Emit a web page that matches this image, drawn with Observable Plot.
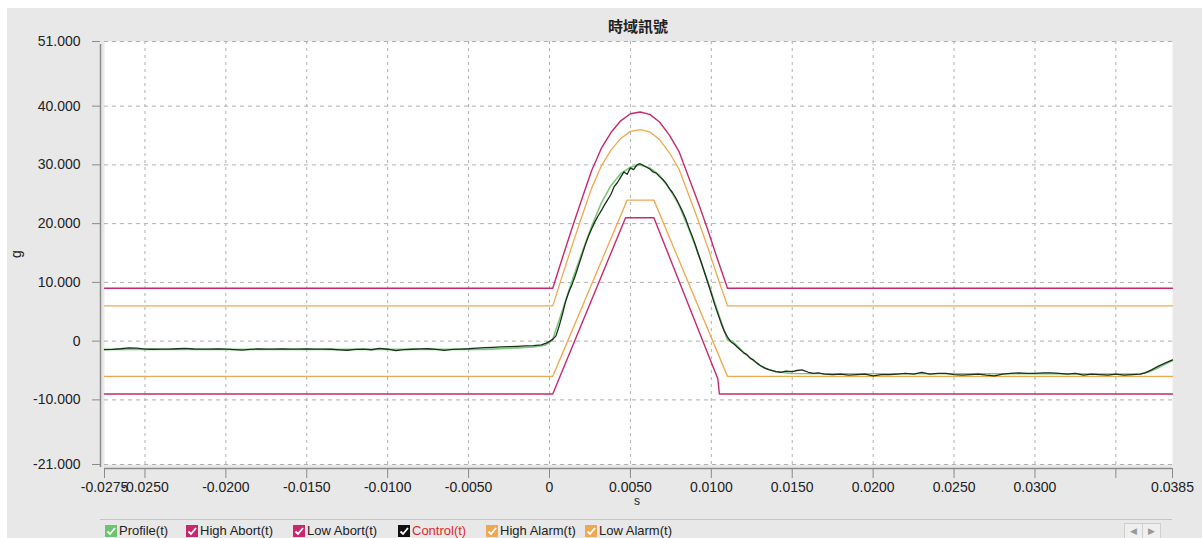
<!DOCTYPE html>
<html><head><meta charset="utf-8">
<script src="https://cdn.jsdelivr.net/npm/d3@7"></script>
<script src="https://cdn.jsdelivr.net/npm/@observablehq/plot@0.6"></script>
<style>
body{margin:0;background:#fff;font-family:"Liberation Sans",Arial,sans-serif;}
#wrap{position:relative;width:1202px;height:538px;overflow:hidden;background:#fff;}
#panel{position:absolute;left:7px;top:8px;right:0;bottom:0;background:#e8e8e8;}
#chart{position:absolute;left:0;top:0;}
#title{position:absolute;top:15px;left:104px;width:1068px;text-align:center;font:bold 15px "Noto Sans CJK TC";color:#222;}
.axl{position:absolute;font:14px "Liberation Sans",Arial,sans-serif;color:#222;}
#legend{position:absolute;top:519px;left:100px;width:1072px;height:20px;border-top:1px solid #c4c4c4;}
.item{position:absolute;top:3px;height:15px;font:13px "Liberation Sans",Arial,sans-serif;color:#222;white-space:nowrap;}
.item svg{position:absolute;left:0;top:2px;}
.item span{position:absolute;left:14px;top:0;}
#scroll{position:absolute;left:1124px;top:523px;}
#scroll div{position:absolute;top:0;width:17px;height:15px;border:1px solid #cfcfcf;background:#efefef;color:#999;font-size:9px;text-align:center;line-height:15px;}
</style></head>
<body>
<div id="wrap">
  <div id="panel"></div>
  <div id="chart"></div>
  <div id="title"></div>
  <div class="axl" id="ylab" style="left:12px;top:246px;transform:rotate(-90deg);"></div>
  <div class="axl" id="xlab" style="left:634px;top:494px;font-size:12px;"></div>
  <div id="legend"></div>
  <div id="scroll"><div style="left:0">&#9664;</div><div style="left:18px">&#9654;</div></div>
</div>
<script>
const titleText = "時域訊號";
const xLabel = "s";
const yLabel = "g";

const xTicks = [-0.0275, -0.025, -0.02, -0.015, -0.01, -0.005, 0, 0.005, 0.01, 0.015, 0.02, 0.025, 0.03, 0.035, 0.0385];
const xTickLabels = ["-0.0275","-0.0250","-0.0200","-0.0150","-0.0100","-0.0050","0","0.0050","0.0100","0.0150","0.0200","0.0250","0.0300","","0.0385"];
const yTicks = [51, 40, 30, 20, 10, 0, -10, -21];
const yTickLabels = ["51.000","40.000","30.000","20.000","10.000","0","-10.000","-21.000"];

const legendNames = ["Profile(t)","High Abort(t)","Low Abort(t)","Control(t)","High Alarm(t)","Low Alarm(t)"];
const legendColors = ["#6cc46c","#c8286e","#c8286e","#111111","#f0a850","#f0a850"];

// [time (s), acceleration (g)]
const profile = [
[-0.0275,-1.4],[-0.0040,-1.4],[-0.0020,-1.15],[-0.0010,-1.0],[-0.0003,-0.7],[0.0000,-0.2],[0.0002,0.3],
[0.0008,5.2],[0.0014,10.3],[0.0020,15.0],[0.0026,19.5],[0.0032,23.5],[0.0038,26.5],[0.0044,28.5],[0.0050,29.6],
[0.0056,30.0],[0.0062,29.5],[0.0068,28.2],[0.0074,26.0],[0.0080,23.2],[0.0086,19.2],[0.0092,14.8],[0.0098,10.0],
[0.0104,5.0],[0.0110,0.2],[0.0113,0.0],[0.0116,-0.8],[0.0120,-1.9],[0.0125,-3.1],[0.0130,-4.1],[0.0135,-4.8],
[0.0140,-5.2],[0.0150,-5.5],[0.0365,-5.6],[0.0370,-5.3],[0.0375,-4.7],[0.0380,-4.0],[0.0385,-3.3]];

const highAbort = [[-0.0275,9],[0.0002,9],[0.0008,14.2],[0.0014,19.3],[0.0020,24.2],[0.0026,29.0],[0.0032,32.8],
[0.0038,35.5],[0.0044,37.5],[0.0050,38.7],[0.0056,39.0],[0.0062,38.6],[0.0068,37.3],[0.0074,35.1],[0.0080,32.3],
[0.0086,27.9],[0.0092,23.5],[0.0098,18.8],[0.0104,13.8],[0.0110,9],[0.0385,9]];

const highAlarm = [[-0.0275,6],[0.0002,6],[0.0008,11.2],[0.0014,16.3],[0.0020,21.2],[0.0026,26.0],[0.0032,29.8],
[0.0038,32.5],[0.0044,34.5],[0.0050,35.7],[0.0056,36.0],[0.0062,35.6],[0.0068,34.3],[0.0074,32.1],[0.0080,29.3],
[0.0086,24.9],[0.0092,20.5],[0.0098,15.8],[0.0104,10.8],[0.0110,6],[0.0385,6]];

const lowAbort = [[-0.0275,-9],[0.0002,-9],[0.0047,21],[0.00645,21],[0.0104,-6.4],[0.0105,-9],[0.0385,-9]];
const lowAlarm = [[-0.0275,-6],[0.0002,-6],[0.0048,24],[0.00645,24],[0.0110,-6],[0.0385,-6]];

const control = [
[-0.0275,-1.45],[-0.0270,-1.40],[-0.0265,-1.30],[-0.0260,-1.15],[-0.0255,-1.20],[-0.0250,-1.35],[-0.0245,-1.38],
[-0.0240,-1.35],[-0.0235,-1.36],[-0.0230,-1.30],[-0.0225,-1.22],[-0.0220,-1.34],[-0.0215,-1.37],[-0.0210,-1.35],
[-0.0205,-1.34],[-0.0200,-1.36],[-0.0195,-1.45],[-0.0190,-1.52],[-0.0185,-1.40],[-0.0180,-1.34],[-0.0175,-1.36],
[-0.0170,-1.35],[-0.0165,-1.33],[-0.0160,-1.36],[-0.0155,-1.35],[-0.0150,-1.34],[-0.0145,-1.36],[-0.0140,-1.35],
[-0.0135,-1.38],[-0.0130,-1.48],[-0.0125,-1.55],[-0.0120,-1.42],[-0.0115,-1.36],[-0.0110,-1.47],[-0.0105,-1.25],
[-0.0100,-1.38],[-0.0095,-1.62],[-0.0090,-1.45],[-0.0085,-1.38],[-0.0080,-1.33],[-0.0075,-1.30],[-0.0070,-1.42],
[-0.0065,-1.56],[-0.0060,-1.40],[-0.0055,-1.35],[-0.0050,-1.30],[-0.0045,-1.20],[-0.0040,-1.12],[-0.0035,-1.05],
[-0.0030,-0.98],[-0.0025,-0.92],[-0.0020,-0.88],[-0.0015,-0.82],[-0.0010,-0.78],[-0.0005,-0.65],[-0.0002,-0.35],
[0.0000,-0.05],[0.0002,0.3],[0.0004,0.9],[0.0006,2.6],[0.0008,4.6],[0.0010,6.8],[0.0012,8.4],[0.0014,9.7],
[0.0016,11.2],[0.0018,12.9],[0.0020,14.6],[0.0022,16.3],[0.0024,17.8],[0.0026,19.1],[0.0028,20.3],[0.0030,21.3],
[0.0032,22.2],[0.0034,23.2],[0.0036,24.1],[0.0038,25.0],[0.0040,26.3],[0.0042,27.0],[0.0044,27.9],[0.0046,28.8],
[0.0048,28.4],[0.0050,29.5],[0.0052,29.2],[0.0054,30.0],[0.0056,30.2],[0.0058,29.9],[0.0060,29.6],[0.0062,29.3],
[0.0064,28.8],[0.0066,28.6],[0.0068,28.0],[0.0070,27.5],[0.0072,26.9],[0.0074,26.0],[0.0076,25.3],[0.0078,24.4],
[0.0080,23.3],[0.0082,22.2],[0.0084,20.9],[0.0086,19.4],[0.0088,18.0],[0.0090,16.5],[0.0092,14.8],[0.0094,13.2],
[0.0096,11.5],[0.0098,9.8],[0.0100,8.1],[0.0102,6.3],[0.0104,4.7],[0.0106,3.1],[0.0108,1.7],[0.0110,0.7],
[0.0112,-0.1],[0.0114,-0.5],[0.0116,-1.0],[0.0118,-1.5],[0.0120,-2.0],[0.0122,-2.3],[0.0124,-2.9],[0.0126,-3.2],
[0.0128,-3.7],[0.0130,-4.1],[0.0133,-4.6],[0.0136,-4.9],[0.0140,-5.2],[0.0143,-5.3],[0.0146,-5.1],[0.0150,-5.2],
[0.0153,-5.0],[0.0156,-4.9],[0.0160,-5.3],[0.0163,-5.5],[0.0166,-5.4],[0.0170,-5.6],[0.0175,-5.7],[0.0180,-5.6],
[0.0185,-5.8],[0.0190,-5.7],[0.0195,-5.6],[0.0200,-5.9],[0.0205,-5.7],[0.0210,-5.7],[0.0215,-5.6],[0.0220,-5.5],
[0.0225,-5.6],[0.0230,-5.3],[0.0235,-5.6],[0.0240,-5.5],[0.0245,-5.5],[0.0250,-5.7],[0.0255,-5.8],[0.0260,-5.7],
[0.0265,-5.6],[0.0270,-5.8],[0.0275,-5.9],[0.0280,-5.6],[0.0285,-5.5],[0.0290,-5.4],[0.0295,-5.5],[0.0300,-5.5],
[0.0305,-5.4],[0.0310,-5.4],[0.0315,-5.5],[0.0320,-5.6],[0.0325,-5.5],[0.0330,-5.8],[0.0335,-5.6],[0.0340,-5.7],
[0.0345,-5.8],[0.0350,-5.6],[0.0355,-5.8],[0.0360,-5.7],[0.0365,-5.6],[0.0368,-5.4],[0.0372,-4.9],[0.0376,-4.3],
[0.0380,-3.8],[0.0385,-3.2]];

const xLab = new Map(xTicks.map((t,i)=>[t,xTickLabels[i]]));
const yLab = new Map(yTicks.map((t,i)=>[t,yTickLabels[i]]));
const X = d=>d[0], Y = d=>d[1];
const xDom = [xTicks[0], xTicks[xTicks.length-1]];
const yDom = [yTicks[yTicks.length-1], yTicks[0]];

const chart = Plot.plot({
  width: 1202, height: 515,
  marginLeft: 104, marginRight: 30, marginTop: 41, marginBottom: 51,
  style: {background: "transparent", overflow: "visible", fontFamily: "'Liberation Sans', Arial, sans-serif"},
  x: {domain: xDom, axis: null},
  y: {domain: yDom, axis: null},
  marks: [
    Plot.frame({fill: "white", stroke: "none"}),
    Plot.gridX(xTicks.slice(1, -1), {stroke: "#b0b0b0", strokeOpacity: 1, strokeDasharray: "3,4"}),
    Plot.gridY(yTicks, {stroke: "#b0b0b0", strokeOpacity: 1, strokeDasharray: "4,4"}),
    Plot.ruleX([xDom[0]], {y1: yDom[1], y2: yDom[0], dx: -4, dy: 3, stroke: "#8a8a8a", strokeWidth: 1.5}),
    Plot.ruleY([yDom[0]], {x1: xDom[0], x2: xDom[1], dy: 4, stroke: "#8a8a8a", strokeWidth: 1.5}),
    Plot.axisY(yTicks, {tickSize: 8, tickPadding: 12, dx: -4, fontSize: 14, stroke: "#8a8a8a", fill: "#222", tickFormat: d => yLab.get(d), label: null}),
    Plot.axisX(xTicks, {tickSize: 10, tickPadding: 4, dy: 4, fontSize: 14, stroke: "#8a8a8a", fill: "#222", tickFormat: d => xLab.get(d), label: null}),
    Plot.line(lowAlarm, {x: X, y: Y, stroke: "#f0a850", strokeWidth: 1.3}),
    Plot.line(highAlarm, {x: X, y: Y, stroke: "#f0a850", strokeWidth: 1.3}),
    Plot.line(lowAbort, {x: X, y: Y, stroke: "#c8286e", strokeWidth: 1.4}),
    Plot.line(highAbort, {x: X, y: Y, stroke: "#c8286e", strokeWidth: 1.4}),
    Plot.line(profile, {x: X, y: Y, stroke: "#7cc87c", strokeWidth: 1.6}),
    Plot.line(control, {x: X, y: Y, stroke: "#1c2e1c", strokeWidth: 1.3})
  ]
});
document.getElementById("chart").appendChild(chart);
document.getElementById("title").textContent = titleText;
document.getElementById("xlab").textContent = xLabel;
document.getElementById("ylab").textContent = yLabel;

const lefts = [5, 86, 193, 298, 386, 485];
const leg = document.getElementById("legend");
legendNames.forEach((name, i) => {
  const it = document.createElement("div");
  it.className = "item";
  it.style.left = lefts[i] + "px";
  it.innerHTML = `<svg width="12" height="12"><rect x="0" y="0" width="12" height="12" fill="${legendColors[i]}"/><path d="M2.5 6.5 L5 9 L10 3" stroke="white" stroke-width="1.8" fill="none"/></svg><span style="color:${name === 'Control(t)' ? '#e02828' : '#222'}">${name}</span>`;
  leg.appendChild(it);
});
</script>
</body></html>
